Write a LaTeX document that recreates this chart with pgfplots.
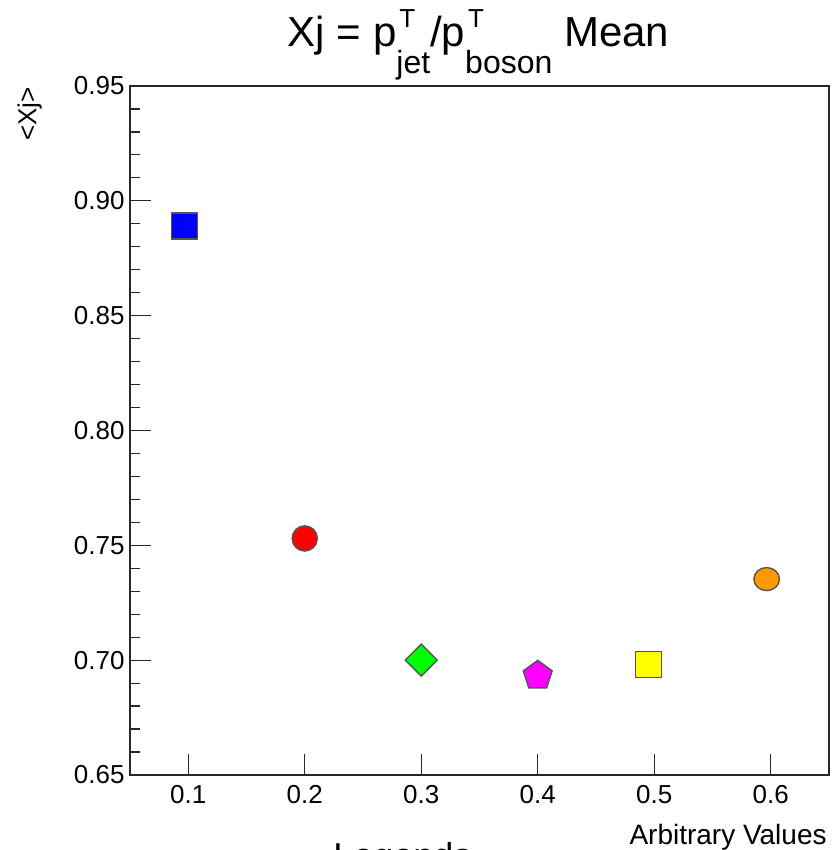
\documentclass[border=0pt]{standalone}
\usepackage{pgfplots}
\pgfplotsset{compat=1.18}
\usepackage{fontspec}
\setmainfont{Liberation Sans}
\definecolor{edgegray}{RGB}{85,85,85}
\definecolor{rootblue}{RGB}{0,0,255}
\definecolor{rootred}{RGB}{255,0,0}
\definecolor{rootgreen}{RGB}{0,255,0}
\definecolor{rootmagenta}{RGB}{255,0,255}
\definecolor{rootyellow}{RGB}{255,255,0}
\definecolor{rootorange}{RGB}{255,153,0}
\definecolor{axisgray}{RGB}{40,40,40}
\begin{document}
\begin{tikzpicture}
\begin{axis}[
  at={(0,0)}, anchor=south west,
  width=349.5pt, height=344.5pt, scale only axis,
  xmin=0.05, xmax=0.65, ymin=0.65, ymax=0.95,
  xtick={0.1,0.2,0.3,0.4,0.5,0.6},
  ytick={0.65,0.70,0.75,0.80,0.85,0.90,0.95},
  minor y tick num=4,
  tick align=inside, xtick pos=bottom, ytick pos=left,
  major tick length=10.5pt, minor tick length=5pt,
  axis line style={axisgray, line width=0.6pt},
  every tick/.style={axisgray, line width=0.6pt},
  /pgf/number format/assume math mode=true,
  xticklabel style={/pgf/number format/.cd, fixed, fixed zerofill, precision=1, /tikz/.cd, font=\fontsize{13}{14}\selectfont, inner sep=0pt, anchor=north, yshift=-5pt},
  yticklabel style={/pgf/number format/.cd, fixed, fixed zerofill, precision=2, /tikz/.cd, font=\fontsize{13}{14}\selectfont, inner sep=0pt, anchor=east, xshift=-2.5pt},
  scaled ticks=false,
  clip=false,
]
\addplot[only marks, mark=square*, mark size=6.5pt, mark options={draw=edgegray, fill=rootblue, line width=0.7pt}] coordinates {(0.097,0.889)};
\addplot[only marks, mark=*, mark size=6.3pt, mark options={draw=edgegray, fill=rootred, line width=0.7pt}] coordinates {(0.2,0.753)};
\addplot[only marks, mark=square*, mark size=5.65pt, mark options={rotate=45, draw=edgegray, fill=rootgreen, line width=0.7pt}] coordinates {(0.3,0.700)};
\addplot[only marks, mark=pentagon*, mark size=7.6pt, mark options={draw=edgegray, fill=rootmagenta, line width=0.7pt}] coordinates {(0.4,0.6933)};
\addplot[only marks, mark=square*, mark size=6.5pt, mark options={draw=edgegray, fill=rootyellow, line width=0.7pt}] coordinates {(0.495,0.698)};
\addplot[only marks, mark=*, mark size=6.4pt, mark options={yscale=0.9, draw=edgegray, fill=rootorange, line width=0.7pt}] coordinates {(0.5965,0.7353)};
\end{axis}
% title
\node[anchor=base, inner sep=0pt, font=\fontsize{21}{24}\selectfont] at (174.25pt,364pt)
  {Xj = p\rlap{\hspace{1.5pt}\raisebox{9.5pt}{\fontsize{13}{14}\selectfont T}}\raisebox{-13.5pt}{\fontsize{16}{18}\selectfont jet}/p\rlap{\hspace{1.5pt}\raisebox{9.5pt}{\fontsize{13}{14}\selectfont T}}\raisebox{-13.5pt}{\fontsize{16}{18}\selectfont boson} Mean};
% y label
\node[anchor=base east, rotate=90, inner sep=0pt, font=\fontsize{13}{14}\selectfont] at (-46.75pt,344pt) {<Xj>};
% x label
\node[anchor=base east, inner sep=0pt, font=\fontsize{14}{16}\selectfont] at (348.5pt,-34.5pt) {Arbitrary Values};
% legend heading, cut off at the lower edge as in the reference
\node[anchor=base west, inner sep=0pt, font=\fontsize{18}{20}\selectfont] at (101.5pt,-46.5pt) {Legends};
\pgfresetboundingbox
\path[use as bounding box] (-65pt,-37.5pt) rectangle (350.5pt,387.5pt);
\end{tikzpicture}
\end{document}
